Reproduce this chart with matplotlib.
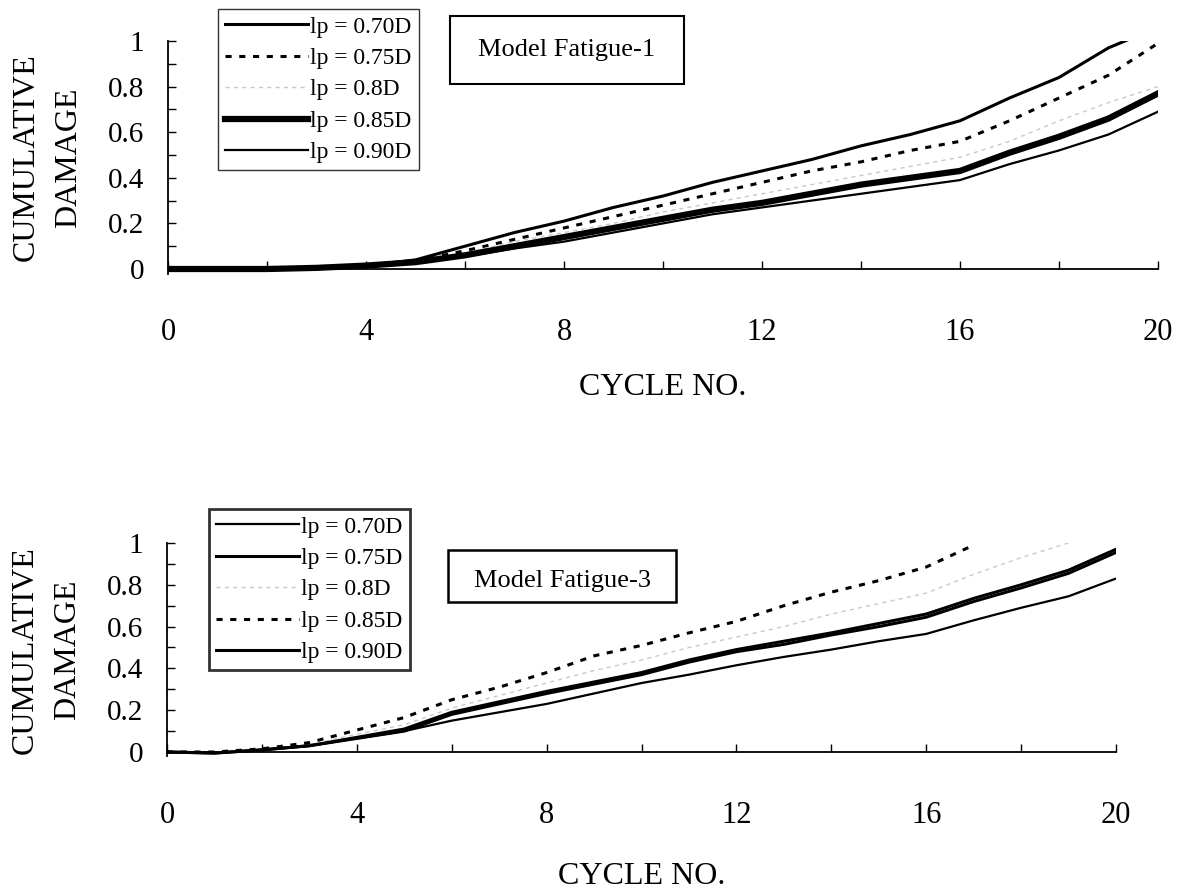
import numpy as np
import matplotlib
matplotlib.use("Agg")
import matplotlib.pyplot as plt
from matplotlib.ticker import MultipleLocator, FuncFormatter
from matplotlib.patches import Rectangle

plt.rcParams["font.family"] = ["Liberation Serif", "DejaVu Serif"]
plt.rcParams["lines.solid_joinstyle"] = "round"
plt.rcParams["lines.dash_joinstyle"] = "round"

cycles = np.arange(0, 21)
nan = np.nan

# Model Fatigue-1 (top)
f1_labels = ["lp = 0.70D", "lp = 0.75D", "lp = 0.8D", "lp = 0.85D", "lp = 0.90D"]
f1_070 = [0, 0, 0, 0.005, 0.015, 0.04, 0.10, 0.16, 0.21, 0.27, 0.32, 0.38, 0.43,
          0.48, 0.54, 0.59, 0.65, 0.75, 0.84, 0.97, 1.06]
f1_075 = [0, 0, 0, 0.005, 0.015, 0.035, 0.08, 0.13, 0.18, 0.23, 0.28, 0.33, 0.38,
          0.43, 0.47, 0.52, 0.56, 0.65, 0.75, 0.85, 0.99]
f1_080 = [0, 0, 0, 0.005, 0.015, 0.035, 0.07, 0.12, 0.16, 0.20, 0.25, 0.29, 0.33,
          0.37, 0.41, 0.45, 0.49, 0.56, 0.65, 0.73, 0.80]
f1_085 = [0, 0, 0, 0.005, 0.015, 0.03, 0.06, 0.10, 0.14, 0.18, 0.22, 0.26, 0.29,
          0.33, 0.37, 0.40, 0.43, 0.51, 0.58, 0.66, 0.77]
f1_090 = [0, 0, 0, 0.005, 0.015, 0.03, 0.055, 0.09, 0.12, 0.16, 0.20, 0.24, 0.27,
          0.30, 0.33, 0.36, 0.39, 0.46, 0.52, 0.59, 0.69]

# Model Fatigue-3 (bottom)
f3_labels = ["lp = 0.70D", "lp = 0.75D", "lp = 0.8D", "lp = 0.85D", "lp = 0.90D"]
f3_070 = [0, -0.005, 0.01, 0.03, 0.065, 0.10, 0.15, 0.19, 0.23, 0.28, 0.33, 0.37,
          0.415, 0.455, 0.49, 0.53, 0.565, 0.63, 0.69, 0.745, 0.83]
f3_075 = [0, -0.005, 0.01, 0.03, 0.065, 0.10, 0.18, 0.23, 0.28, 0.325, 0.37, 0.43,
          0.48, 0.515, 0.56, 0.60, 0.645, 0.72, 0.785, 0.855, 0.955]
f3_080 = [0, 0, 0.01, 0.035, 0.085, 0.13, 0.21, 0.27, 0.33, 0.39, 0.44, 0.50,
          0.55, 0.60, 0.66, 0.71, 0.76, 0.85, 0.93, 1.0, nan]
f3_085 = [0, 0, 0.015, 0.045, 0.105, 0.165, 0.25, 0.31, 0.38, 0.46, 0.51, 0.57,
          0.625, 0.70, 0.765, 0.82, 0.885, 0.99, nan, nan, nan]
f3_090 = [0, -0.005, 0.01, 0.03, 0.07, 0.11, 0.19, 0.24, 0.29, 0.335, 0.38, 0.44,
          0.49, 0.53, 0.57, 0.615, 0.66, 0.735, 0.80, 0.87, 0.97]

x_ticks = [0, 4, 8, 12, 16, 20]
y_ticks = [0, 0.2, 0.4, 0.6, 0.8, 1]

W, H = 1179, 891
fig = plt.figure(figsize=(W / 100, H / 100), dpi=100)


def px_axes(left, right, y0, y1, ymin=-0.02):
    # y0/y1: pixel rows of data value 0 and 1
    unit = (y0 - y1)
    bottom_px = y0 - ymin * unit
    return fig.add_axes([left / W, 1 - bottom_px / H, (right - left) / W,
                         (bottom_px - y1) / H])


def style_axes(ax, tick_pad, label_pad):
    ax.set_xlim(0, 20)
    ax.set_ylim(-0.02, 1.0)
    ax.spines["top"].set_visible(False)
    ax.spines["right"].set_visible(False)
    ax.spines["bottom"].set_position(("data", 0))
    for s in ("left", "bottom"):
        ax.spines[s].set_linewidth(1.3)
    ax.xaxis.set_major_locator(MultipleLocator(4))
    ax.xaxis.set_minor_locator(MultipleLocator(2))
    ax.yaxis.set_major_locator(MultipleLocator(0.2))
    ax.yaxis.set_minor_locator(MultipleLocator(0.1))
    ax.yaxis.set_major_formatter(FuncFormatter(lambda v, p: "%g" % round(v, 1)))
    ax.tick_params(axis="both", which="both", direction="in", length=6, width=1)
    ax.tick_params(axis="x", which="major", labelsize=22, pad=tick_pad)
    ax.tick_params(axis="y", which="major", labelsize=21, pad=17)
    ax.set_xticks(x_ticks)
    ax.set_yticks(y_ticks)
    ax.set_xlabel("CYCLE NO.", fontsize=23, labelpad=label_pad)
    ax.set_ylabel("CUMULATIVE\nDAMAGE", fontsize=23, labelpad=18, linespacing=1.6)


# ---- top chart ----
ax1 = px_axes(168, 1158, 269, 41)
style_axes(ax1, 35, 19)
ax1.plot(cycles, f1_070, color="black", lw=2.2, label=f1_labels[0])
ax1.plot(cycles, f1_075, color="black", lw=2.2, ls=(0, (2, 2.5)), label=f1_labels[1])
ax1.plot(cycles, f1_080, color="#c8c8c8", lw=1.0, ls=(0, (3, 3)), label=f1_labels[2])
ax1.plot(cycles, f1_085, color="black", lw=4.5, label=f1_labels[3])
ax1.plot(cycles, f1_090, color="black", lw=1.6, label=f1_labels[4])
leg1 = ax1.legend(loc="upper left", bbox_to_anchor=(218 / W, 1 - 9 / H),
                  bbox_transform=fig.transFigure, fontsize=17, frameon=True,
                  fancybox=False, edgecolor="black", handlelength=3.5,
                  handletextpad=0.1, labelspacing=0.42, borderpad=0.3,
                  borderaxespad=0)
leg1.get_frame().set_linewidth(1.0)

fig.patches.append(Rectangle((450 / W, 1 - 84 / H), 234 / W, 68 / H,
                             transform=fig.transFigure, fill=False,
                             edgecolor="black", lw=1.5))
fig.text(567 / W, 1 - 50 / H, "Model Fatigue-1", fontsize=19, ha="center",
         va="center")

# ---- bottom chart ----
ax2 = px_axes(167, 1116, 752, 543)
style_axes(ax2, 35, 23)
ax2.plot(cycles, f3_070, color="black", lw=1.6, label=f3_labels[0])
ax2.plot(cycles, f3_075, color="black", lw=2.2, label=f3_labels[1])
ax2.plot(cycles, f3_080, color="#c8c8c8", lw=1.0, ls=(0, (3, 3)), label=f3_labels[2])
ax2.plot(cycles, f3_085, color="black", lw=2.2, ls=(0, (2, 2.5)), label=f3_labels[3])
ax2.plot(cycles, f3_090, color="black", lw=2.2, label=f3_labels[4])
leg2 = ax2.legend(loc="upper left", bbox_to_anchor=(209 / W, 1 - 509 / H),
                  bbox_transform=fig.transFigure, fontsize=17, frameon=True,
                  fancybox=False, edgecolor="black", handlelength=3.5,
                  handletextpad=0.1, labelspacing=0.42, borderpad=0.3,
                  borderaxespad=0)
leg2.get_frame().set_linewidth(2.0)

fig.patches.append(Rectangle((448 / W, 1 - 602 / H), 228 / W, 52 / H,
                             transform=fig.transFigure, fill=False,
                             edgecolor="black", lw=1.8))
fig.text(562 / W, 1 - 581 / H, "Model Fatigue-3", fontsize=19, ha="center",
         va="center")

fig.savefig("out.png", dpi=100)
